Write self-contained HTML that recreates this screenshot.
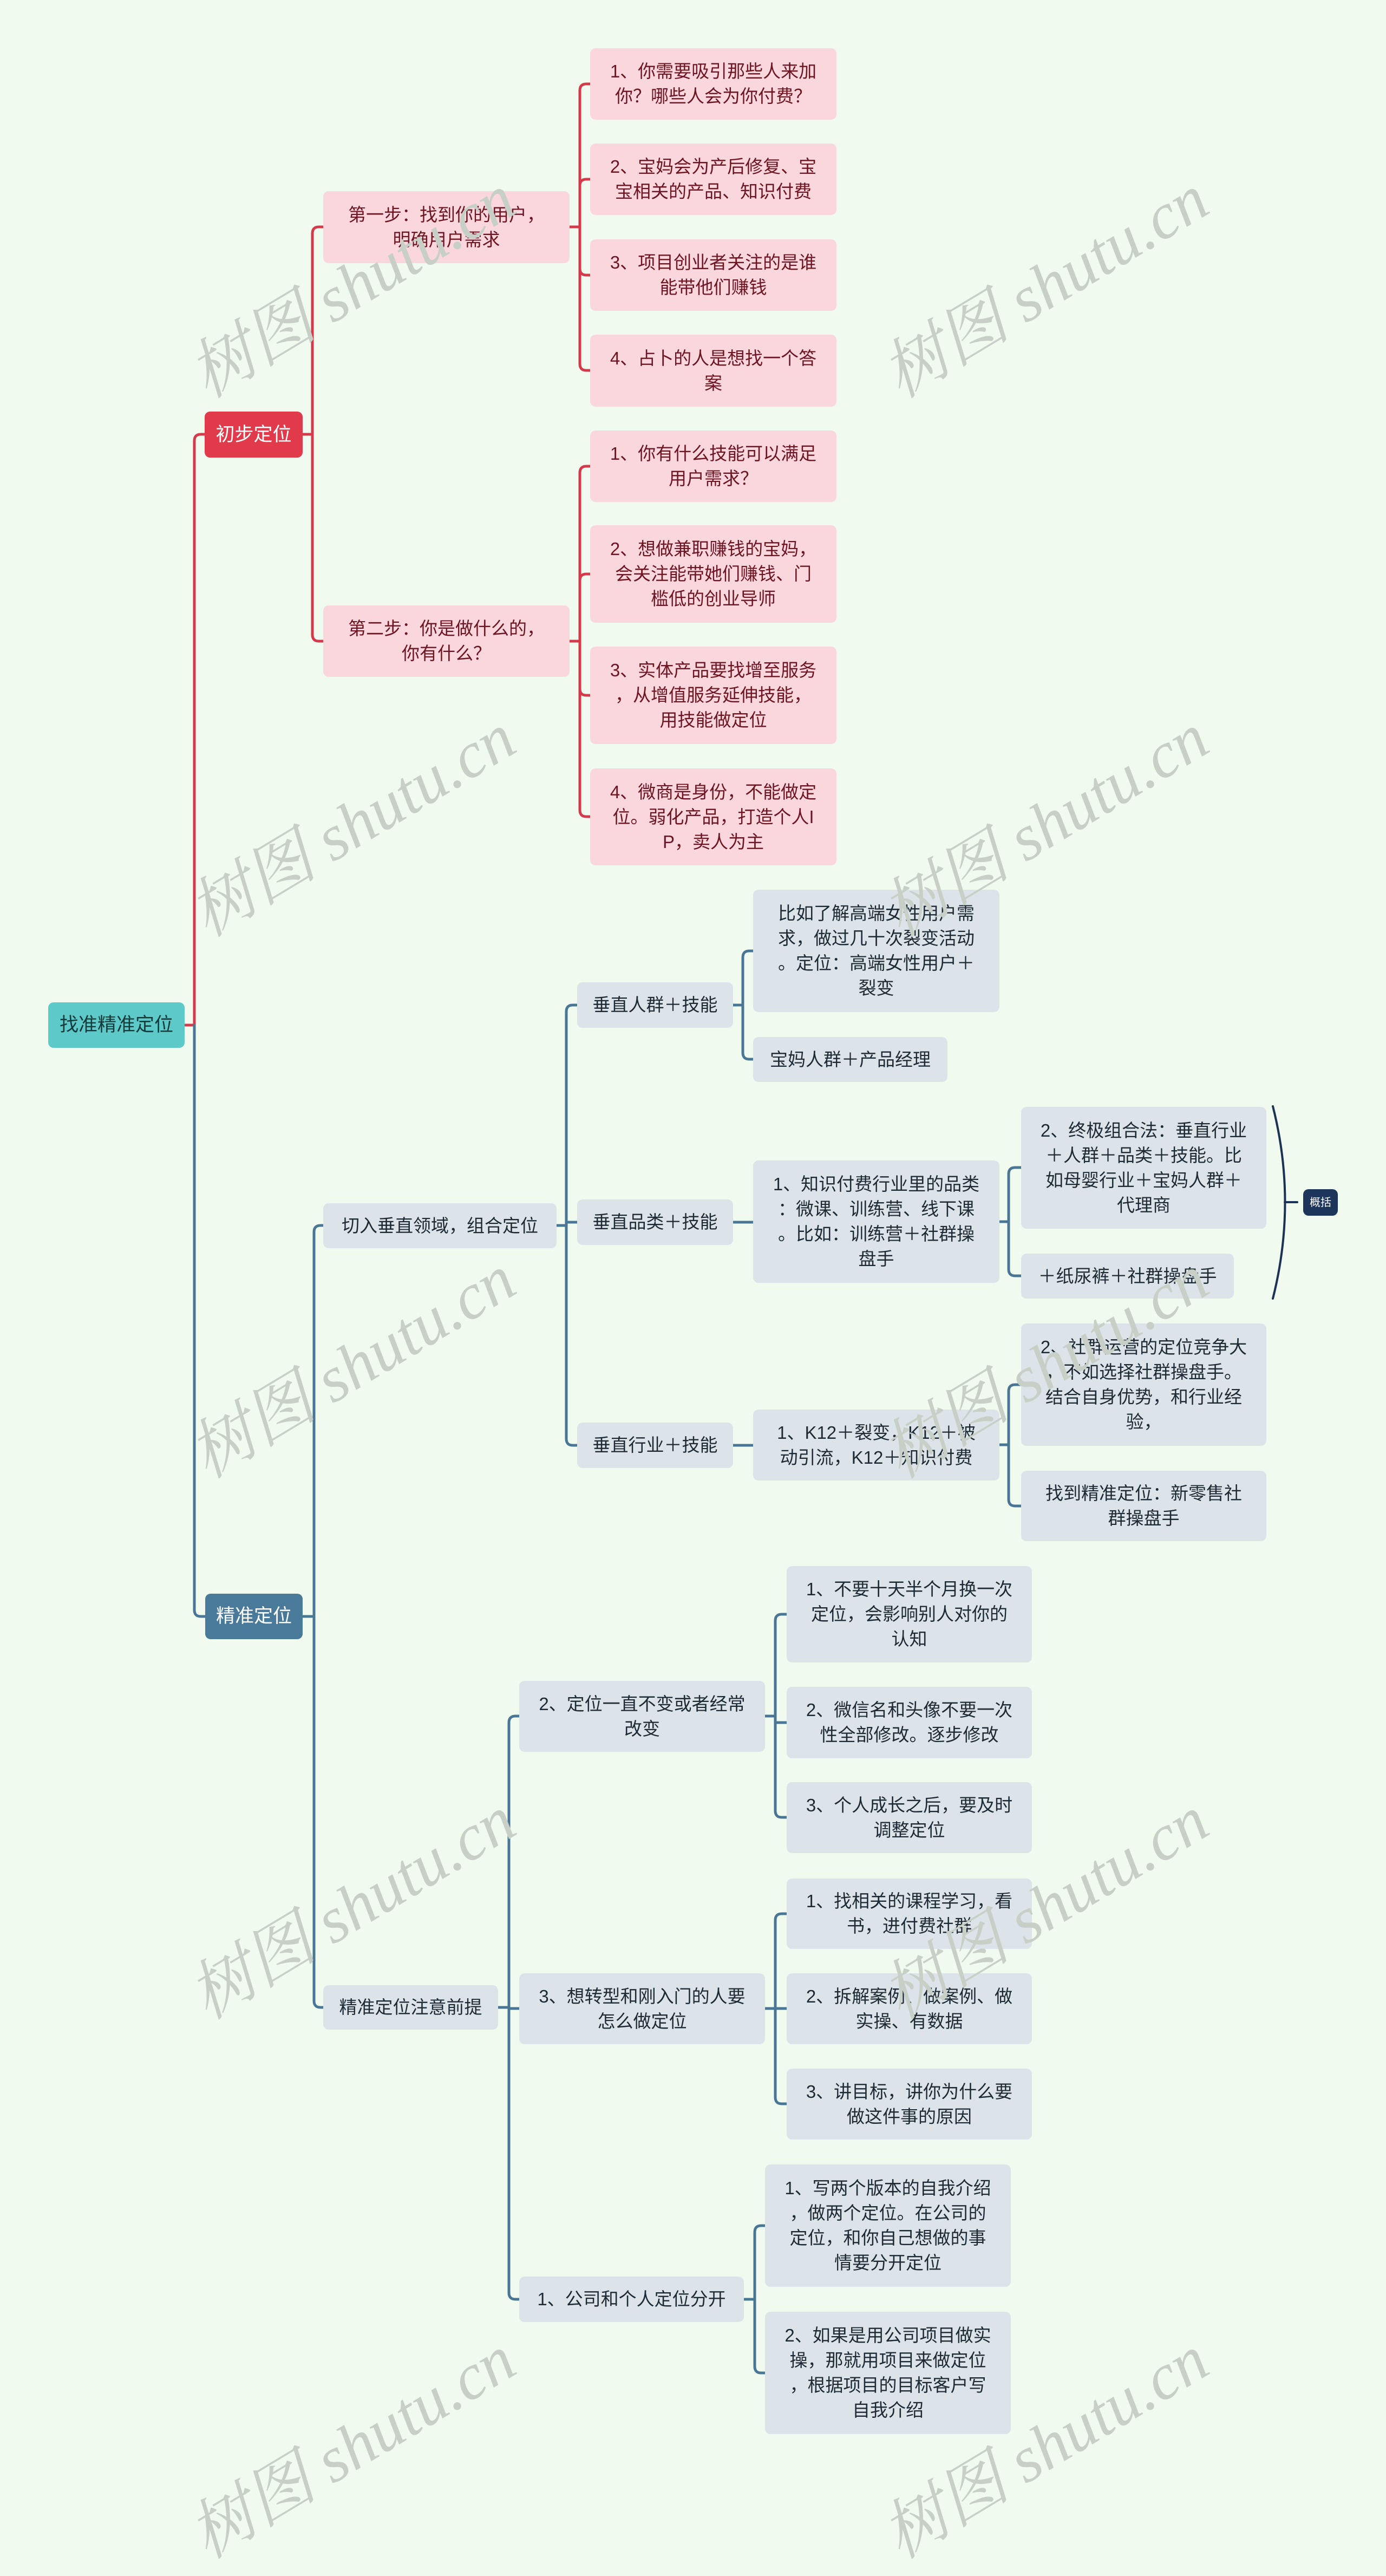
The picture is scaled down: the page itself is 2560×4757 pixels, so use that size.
<!DOCTYPE html>
<html><head><meta charset="utf-8">
<style>
*{margin:0;padding:0;box-sizing:border-box}
body{width:2560px;height:4585px;background:#f0faef;position:relative;overflow:hidden;font-family:"Liberation Sans","Noto Sans CJK SC",sans-serif}
.b{position:absolute;display:flex;align-items:center;justify-content:center;text-align:center;border-radius:10px;font-size:33px;line-height:46px;white-space:nowrap}
.p{background:#fad7dc;color:#6e1422}
.g{background:#dce4ea;color:#1e2a33}
.wm{position:absolute;font-family:"Liberation Serif","Noto Serif CJK SC",serif;font-style:italic;font-size:120px;color:#c7cfc7;white-space:nowrap;transform:translate(-50%,-50%) rotate(-31deg);z-index:5}
svg{position:absolute;left:0;top:0}
</style></head><body>
<svg width="2560" height="4585" fill="none" stroke-width="5" stroke-linecap="round">
<g stroke="#d63a4a">
<path d="M341 1893 H359 M359 1893 V814 Q359 802 371 802 H378"/>
<path d="M559 802 H577 M577 802 V431 Q577 419 589 419 H597 M577 802 V1172 Q577 1184 589 1184 H597"/>
<path d="M1052 419 H1071 M1071 419 V167 Q1071 155 1083 155 H1090 M1071 419 V343 Q1071 331 1083 331 H1090 M1071 419 V496 Q1071 508 1083 508 H1090 M1071 419 V672 Q1071 684 1083 684 H1090"/>
<path d="M1052 1184 H1071 M1071 1184 V873 Q1071 861 1083 861 H1090 M1071 1184 V1072 Q1071 1060 1083 1060 H1090 M1071 1184 V1272 Q1071 1284 1083 1284 H1090 M1071 1184 V1496 Q1071 1508 1083 1508 H1090"/>
</g>
<g stroke="#4a7696">
<path d="M359 1893 V2973 Q359 2985 371 2985 H379"/>
<path d="M559 2985 H580 M580 2985 V2275 Q580 2263 592 2263 H597 M580 2985 V3695 Q580 3707 592 3707 H597"/>
<path d="M1028 2263 H1046 M1046 2263 V1868 Q1046 1856 1058 1856 H1066 M1046 2263 V2257 H1066 M1046 2263 V2657 Q1046 2669 1058 2669 H1066"/>
<path d="M1354 1856 H1372 M1372 1856 V1768 Q1372 1756 1384 1756 H1391 M1372 1856 V1944 Q1372 1956 1384 1956 H1391"/>
<path d="M1354 2257 H1391"/>
<path d="M1846 2256 H1863 M1863 2256 V2168 Q1863 2156 1875 2156 H1886 M1863 2256 V2344 Q1863 2356 1875 2356 H1886"/>
<path d="M1354 2669 H1391"/>
<path d="M1846 2668 H1863 M1863 2668 V2569 Q1863 2557 1875 2557 H1886 M1863 2668 V2769 Q1863 2781 1875 2781 H1886"/>
<path d="M920 3707 H940 M940 3707 V3181 Q940 3169 952 3169 H959 M940 3707 V3709 H959 M940 3707 V4234 Q940 4246 952 4246 H959"/>
<path d="M1413 3169 H1432 M1432 3169 V2993 Q1432 2981 1444 2981 H1453 M1432 3169 V3181 H1453 M1432 3169 V3344 Q1432 3356 1444 3356 H1453"/>
<path d="M1413 3709 H1432 M1432 3709 V3546 Q1432 3534 1444 3534 H1453 M1432 3709 H1453 M1432 3709 V3873 Q1432 3885 1444 3885 H1453"/>
<path d="M1374 4246 H1394 M1394 4246 V4122 Q1394 4110 1406 4110 H1413 M1394 4246 V4370 Q1394 4382 1406 4382 H1413"/>
</g>
<path d="M2351 2043 Q2396 2220 2351 2398 M2373 2220 H2396" stroke="#1c3356" stroke-width="4"/>
</svg>

<div class="b" style="left:89px;top:1851px;width:252px;height:84px;background:#5ec9c9;color:#153a3a;font-size:35px">找准精准定位</div>
<div class="b" style="left:378px;top:760px;width:181px;height:85px;background:#e03a4b;color:#fff;font-size:35px">初步定位</div>
<div class="b" style="left:379px;top:2943px;width:180px;height:84px;background:#4a7a9a;color:#fff;font-size:35px">精准定位</div>

<div class="b p" style="left:597px;top:353px;width:455px;height:133px">第一步：找到你的用户，<br>明确用户需求</div>
<div class="b p" style="left:597px;top:1118px;width:455px;height:132px">第二步：你是做什么的，<br>你有什么？</div>

<div class="b p" style="left:1090px;top:89px;width:455px;height:132px">1、你需要吸引那些人来加<br>你？哪些人会为你付费？</div>
<div class="b p" style="left:1090px;top:265px;width:455px;height:132px">2、宝妈会为产后修复、宝<br>宝相关的产品、知识付费</div>
<div class="b p" style="left:1090px;top:442px;width:455px;height:132px">3、项目创业者关注的是谁<br>能带他们赚钱</div>
<div class="b p" style="left:1090px;top:618px;width:455px;height:133px">4、占卜的人是想找一个答<br>案</div>
<div class="b p" style="left:1090px;top:795px;width:455px;height:132px">1、你有什么技能可以满足<br>用户需求？</div>
<div class="b p" style="left:1090px;top:970px;width:455px;height:180px">2、想做兼职赚钱的宝妈，<br>会关注能带她们赚钱、门<br>槛低的创业导师</div>
<div class="b p" style="left:1090px;top:1194px;width:455px;height:180px">3、实体产品要找增至服务<br>，从增值服务延伸技能，<br>用技能做定位</div>
<div class="b p" style="left:1090px;top:1419px;width:455px;height:179px">4、微商是身份，不能做定<br>位。弱化产品，打造个人I<br>P，卖人为主</div>

<div class="b g" style="left:597px;top:2222px;width:431px;height:83px">切入垂直领域，组合定位</div>
<div class="b g" style="left:1066px;top:1814px;width:288px;height:84px">垂直人群＋技能</div>
<div class="b g" style="left:1066px;top:2215px;width:288px;height:84px">垂直品类＋技能</div>
<div class="b g" style="left:1066px;top:2627px;width:288px;height:84px">垂直行业＋技能</div>

<div class="b g" style="left:1391px;top:1643px;width:455px;height:226px">比如了解高端女性用户需<br>求，做过几十次裂变活动<br>。定位：高端女性用户＋<br>裂变</div>
<div class="b g" style="left:1391px;top:1915px;width:359px;height:83px">宝妈人群＋产品经理</div>
<div class="b g" style="left:1391px;top:2143px;width:455px;height:226px">1、知识付费行业里的品类<br>：微课、训练营、线下课<br>。比如：训练营＋社群操<br>盘手</div>
<div class="b g" style="left:1886px;top:2044px;width:453px;height:225px">2、终极组合法：垂直行业<br>＋人群＋品类＋技能。比<br>如母婴行业＋宝妈人群＋<br>代理商</div>
<div class="b g" style="left:1886px;top:2315px;width:393px;height:83px">＋纸尿裤＋社群操盘手</div>
<div class="b" style="left:2407px;top:2196px;width:64px;height:49px;background:#1d355a;color:#fff;font-size:20px;line-height:24px">概括</div>
<div class="b g" style="left:1391px;top:2603px;width:455px;height:131px">1、K12＋裂变，K12＋被<br>动引流，K12＋知识付费</div>
<div class="b g" style="left:1886px;top:2444px;width:453px;height:226px">2、社群运营的定位竞争大<br>，不如选择社群操盘手。<br>结合自身优势，和行业经<br>验，</div>
<div class="b g" style="left:1886px;top:2716px;width:453px;height:130px">找到精准定位：新零售社<br>群操盘手</div>

<div class="b g" style="left:597px;top:3666px;width:323px;height:82px">精准定位注意前提</div>
<div class="b g" style="left:959px;top:3104px;width:454px;height:131px">2、定位一直不变或者经常<br>改变</div>
<div class="b g" style="left:959px;top:3644px;width:454px;height:131px">3、想转型和刚入门的人要<br>怎么做定位</div>
<div class="b g" style="left:959px;top:4204px;width:415px;height:84px">1、公司和个人定位分开</div>

<div class="b g" style="left:1453px;top:2892px;width:453px;height:178px">1、不要十天半个月换一次<br>定位，会影响别人对你的<br>认知</div>
<div class="b g" style="left:1453px;top:3115px;width:453px;height:132px">2、微信名和头像不要一次<br>性全部修改。逐步修改</div>
<div class="b g" style="left:1453px;top:3291px;width:453px;height:131px">3、个人成长之后，要及时<br>调整定位</div>
<div class="b g" style="left:1453px;top:3469px;width:453px;height:130px">1、找相关的课程学习，看<br>书，进付费社群</div>
<div class="b g" style="left:1453px;top:3644px;width:453px;height:131px">2、拆解案例、做案例、做<br>实操、有数据</div>
<div class="b g" style="left:1453px;top:3820px;width:453px;height:131px">3、讲目标，讲你为什么要<br>做这件事的原因</div>
<div class="b g" style="left:1413px;top:3997px;width:454px;height:226px">1、写两个版本的自我介绍<br>，做两个定位。在公司的<br>定位，和你自己想做的事<br>情要分开定位</div>
<div class="b g" style="left:1413px;top:4269px;width:454px;height:226px">2、如果是用公司项目做实<br>操，那就用项目来做定位<br>，根据项目的目标客户写<br>自我介绍</div>

<div class="wm" style="left:645px;top:520px">树图 shutu.cn</div>
<div class="wm" style="left:1925px;top:520px">树图 shutu.cn</div>
<div class="wm" style="left:645px;top:1515px">树图 shutu.cn</div>
<div class="wm" style="left:1925px;top:1515px">树图 shutu.cn</div>
<div class="wm" style="left:645px;top:2515px">树图 shutu.cn</div>
<div class="wm" style="left:1925px;top:2515px">树图 shutu.cn</div>
<div class="wm" style="left:645px;top:3514px">树图 shutu.cn</div>
<div class="wm" style="left:1925px;top:3514px">树图 shutu.cn</div>
<div class="wm" style="left:645px;top:4510px">树图 shutu.cn</div>
<div class="wm" style="left:1925px;top:4510px">树图 shutu.cn</div>
</body></html>
